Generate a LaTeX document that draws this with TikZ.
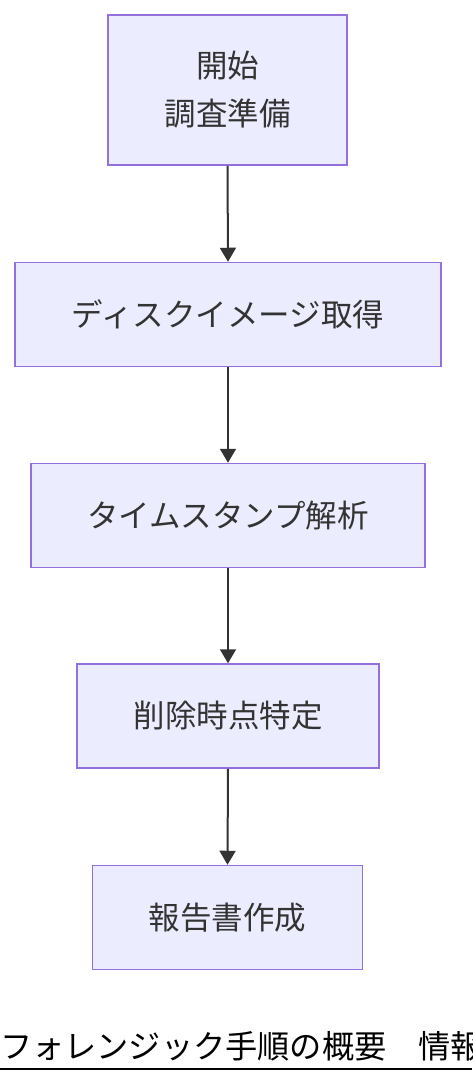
\documentclass[tikz,border=0pt]{standalone}
\usepackage{fontspec}
\newfontfamily\jp{Noto Sans CJK JP}
\usetikzlibrary{arrows.meta}
\definecolor{boxfill}{HTML}{ECECFF}
\definecolor{boxline}{HTML}{9370DB}
\definecolor{arrowc}{HTML}{333333}
\tikzset{
  stepbox/.style={draw=boxline, fill=boxfill, line width=1.5pt, rectangle, inner sep=0pt,
    align=center, text=arrowc, font=\jp\fontsize{31.5}{48}\selectfont},
  flow/.style={draw=arrowc, line width=2pt, -{Triangle[length=14pt,width=16pt]}}
}
\begin{document}
\begin{tikzpicture}[x=1pt,y=-1pt]
\useasboundingbox (0,0) rectangle (472,1084);
\node[stepbox, minimum width=239pt, minimum height=150pt] (n1) at (227.5,90) {開始\\調査準備};
\node[stepbox, minimum width=426pt, minimum height=104pt] (n2) at (228,314.5) {ディスクイメージ取得};
\node[stepbox, minimum width=394pt, minimum height=104pt] (n3) at (228,515.5) {タイムスタンプ解析};
\node[stepbox, minimum width=302pt, minimum height=104pt] (n4) at (228,716) {削除時点特定};
\node[stepbox, minimum width=270pt, minimum height=104pt] (n5) at (227.5,917.5) {報告書作成};
\draw[flow] (n1.south) -- (n2.north);
\draw[flow] (n2.south) -- (n3.north);
\draw[flow] (n3.south) -- (n4.north);
\draw[flow] (n4.south) -- (n5.north);
\node[anchor=base west, inner sep=0pt, font=\jp\fontsize{32.2}{36}\selectfont, text=black] (title) at (0,1058) {フォレンジック手順の概要　情報};
\coordinate (ulA) at (0,1069);
\coordinate (ulB) at (472,1069);
\draw[line width=2pt, black] (ulA) -- (ulB);
\end{tikzpicture}
\end{document}
